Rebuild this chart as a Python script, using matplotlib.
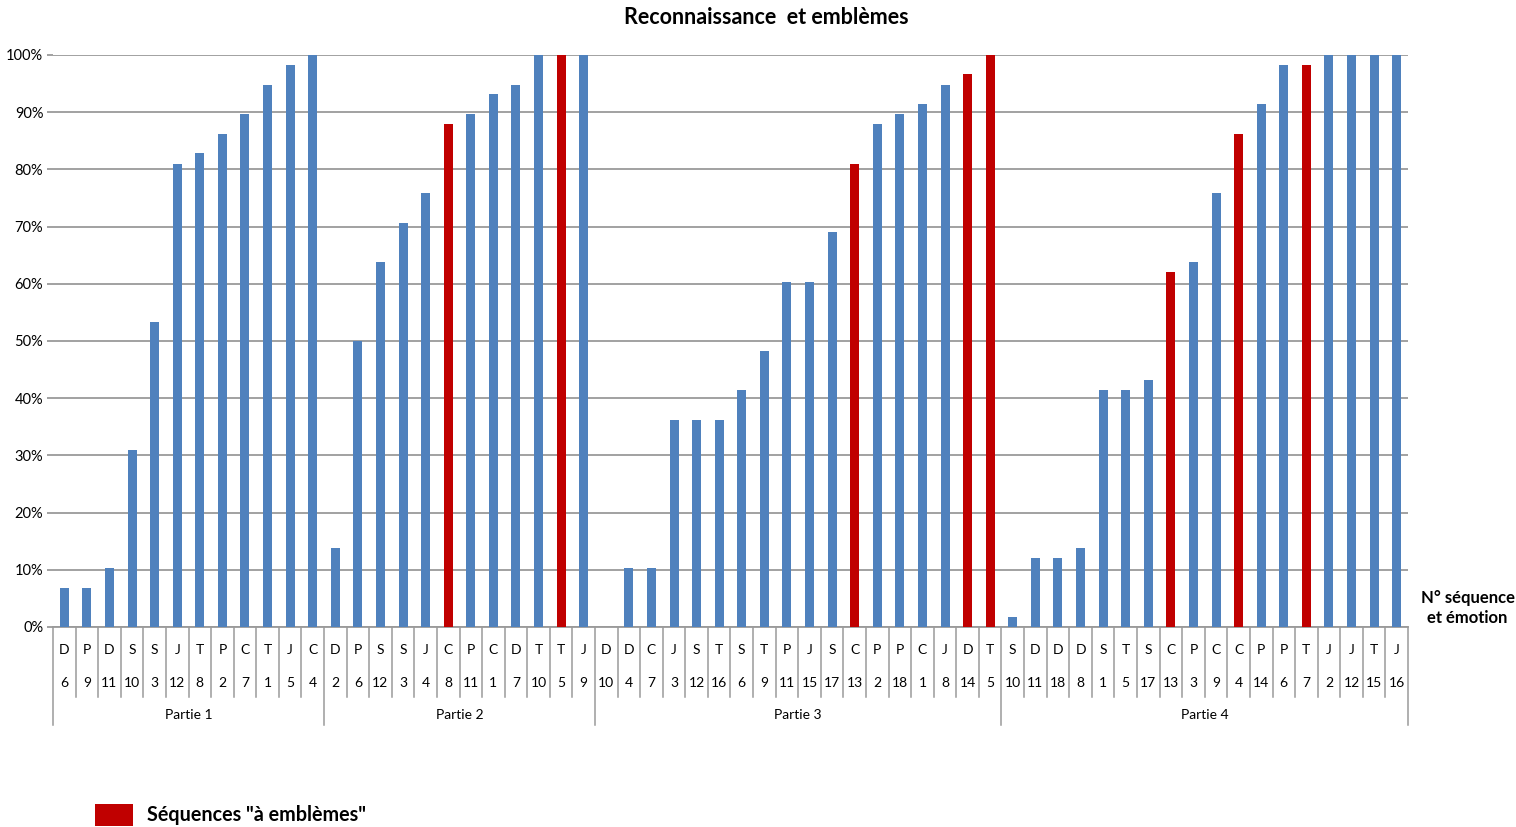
import matplotlib
matplotlib.use("Agg")
import matplotlib.pyplot as plt
import matplotlib.transforms as mtransforms
from matplotlib.patches import Rectangle
from matplotlib.ticker import PercentFormatter

plt.rcParams["font.family"] = ["Lato", "DejaVu Sans"]

# Recognition rate (%) per sequence, in display order, grouped by part
emotions = [
    "D", "P", "D", "S", "S", "J", "T", "P", "C", "T", "J", "C",
    "D", "P", "S", "S", "J", "C", "P", "C", "D", "T", "T", "J",
    "D", "D", "C", "J", "S", "T", "S", "T", "P", "J", "S", "C", "P", "P", "C", "J", "D", "T",
    "S", "D", "D", "D", "S", "T", "S", "C", "P", "C", "C", "P", "P", "T", "J", "J", "T", "J",
]
sequences = [
    6, 9, 11, 10, 3, 12, 8, 2, 7, 1, 5, 4,
    2, 6, 12, 3, 4, 8, 11, 1, 7, 10, 5, 9,
    10, 4, 7, 3, 12, 16, 6, 9, 11, 15, 17, 13, 2, 18, 1, 8, 14, 5,
    10, 11, 18, 8, 1, 5, 17, 13, 3, 9, 4, 14, 6, 7, 2, 12, 15, 16,
]
recognition = [
    6.9, 6.9, 10.3, 31.0, 53.4, 81.0, 82.8, 86.2, 89.7, 94.8, 98.3, 100.0,
    13.8, 50.0, 63.8, 70.7, 75.9, 87.9, 89.7, 93.1, 94.8, 100.0, 100.0, 100.0,
    0.0, 10.3, 10.3, 36.2, 36.2, 36.2, 41.4, 48.3, 60.3, 60.3, 69.0, 81.0, 87.9, 89.7, 91.4, 94.8, 96.6, 100.0,
    1.7, 12.1, 12.1, 13.8, 41.4, 41.4, 43.1, 62.1, 63.8, 75.9, 86.2, 91.4, 98.3, 98.3, 100.0, 100.0, 100.0, 100.0,
]
# positions of the "emblem" sequences in the list above
emblem_idx = [17, 22, 35, 40, 41, 49, 52, 55]

parts = ["Partie 1", "Partie 2", "Partie 3", "Partie 4"]
part_sizes = [12, 12, 18, 18]

blue = "#4F81BD"
red = "#C00000"
grid_col = "#9A9A9A"

fig = plt.figure(figsize=(15.16, 8.27), dpi=100)
ax = fig.add_axes([53 / 1516, 1 - 627 / 827, (1408 - 53) / 1516, (627 - 55) / 827])

x = list(range(len(recognition)))
colors = [red if i in emblem_idx else blue for i in x]
ax.bar(x, recognition, width=0.4, color=colors, zorder=3)

ax.set_xlim(-0.5, len(x) - 0.5)
ax.set_ylim(0, 100)
ax.set_yticks(range(0, 101, 10))
ax.yaxis.set_major_formatter(PercentFormatter(decimals=0))
ax.grid(axis="y", color=grid_col, linewidth=1.3, zorder=0)
ax.tick_params(axis="y", length=4, color=grid_col, width=1.3, labelsize=10.5, pad=3)
ax.tick_params(axis="x", bottom=False, labelbottom=False)
for side in ["top", "right", "left"]:
    ax.spines[side].set_visible(False)
ax.spines["bottom"].set_color(grid_col)
ax.spines["bottom"].set_linewidth(1.3)

# category table under the axis
trans = mtransforms.blended_transform_factory(ax.transData, ax.transAxes)
for i in x:
    ax.text(i, -0.040, emotions[i], transform=trans, ha="center", va="center", fontsize=10)
    ax.text(i, -0.098, str(sequences[i]), transform=trans, ha="center", va="center", fontsize=10)

group_edges = [-0.5]
for n in part_sizes:
    group_edges.append(group_edges[-1] + n)

for k in range(len(x) + 1):
    edge = k - 0.5
    bottom = -0.171 if edge in group_edges else -0.122
    ax.plot([edge, edge], [0, bottom], transform=trans, color=grid_col,
            linewidth=1.1, clip_on=False)

for name, lo, hi in zip(parts, group_edges[:-1], group_edges[1:]):
    ax.text((lo + hi) / 2, -0.154, name, transform=trans, ha="center", va="center", fontsize=10)

ax.text(1.044, 0.033, "N° séquence\net émotion", transform=ax.transAxes, ha="center",
        va="center", fontsize=12, fontweight="bold", linespacing=1.3)

fig.text(766 / 1516, 1 - 18 / 827, "Reconnaissance  et emblèmes", ha="center", va="center",
         fontsize=15.5, fontweight="bold")

# legend for the emblem sequences
fig.patches.append(Rectangle((95 / 1516, 1 - 826 / 827), 38 / 1516, 22 / 827,
                             transform=fig.transFigure, facecolor=red, edgecolor="none"))
fig.text(147 / 1516, 1 - 815 / 827, 'Séquences "à emblèmes"', ha="left", va="center",
         fontsize=14.2, fontweight="bold")

fig.savefig("out.png", dpi=100)
